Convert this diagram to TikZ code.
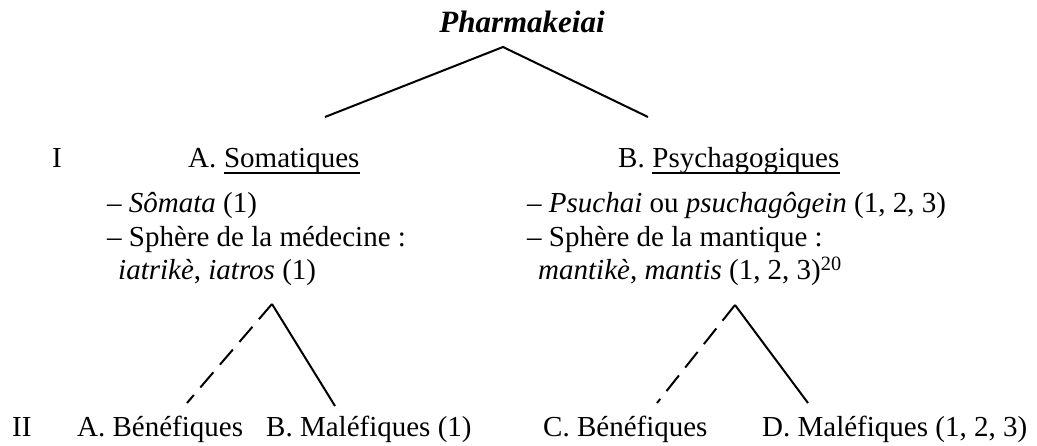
\documentclass[tikz,border=0pt]{standalone}
\usepackage{fontspec}
\setmainfont{Liberation Serif}
\begin{document}
\begin{tikzpicture}[x=1pt,y=-1pt,
  txt/.style={anchor=base west,inner sep=0pt,font=\fontsize{29}{33}\selectfont},
  branch/.style={line width=2pt},
  dbranch/.style={line width=2pt,dash pattern=on 20pt off 10pt},
  uline/.style={line width=1.5pt}]
\useasboundingbox (0,0) rectangle (1037,446);
% top
\node[txt,anchor=base,font=\fontsize{31}{35}\selectfont] (ph) at (522,33) {\textbf{\textit{Pharmakeiai}}};
\coordinate (t0) at (503,47);
\coordinate (tl) at (325,117);
\coordinate (tr) at (648,117);
\draw[branch] (tl) -- (t0) -- (tr);
% level I
\node[txt] (I) at (52,168) {I};
\node[txt] (Aa) at (188,168) {A.};
\node[txt] (As) at ([xshift=7.3pt]Aa.base east) {Somatiques};
\draw[uline] ([yshift=1.5pt]As.south west) -- ([yshift=1.5pt]As.south east);
\node[txt] (Ba) at (618,168) {B.};
\node[txt] (Bs) at ([xshift=7.3pt]Ba.base east) {Psychagogiques};
\draw[uline] ([yshift=1.5pt]Bs.south west) -- ([yshift=1.5pt]Bs.south east);
% descriptions
\node[txt] (s1) at (107,213) {– \textit{Sômata} (1)};
\node[txt] (s2) at (107,247) {– Sphère de la médecine :};
\node[txt] (s3) at (118,280) {\textit{iatrikè}, \textit{iatros} (1)};
\node[txt] (p1) at (527,213) {– \textit{Psuchai} ou \textit{psuchagôgein} (1, 2, 3)};
\node[txt] (p2) at (527,247) {– Sphère de la mantique :};
\node[txt] (p3) at (538,280) {\textit{mantikè}, \textit{mantis} (1, 2, 3)\textsuperscript{20}};
% lower trees
\coordinate (la) at (272,304);
\coordinate (ld) at (187,403);
\coordinate (ls) at (335,406);
\draw[dbranch] (la) -- (ld);
\draw[branch] (la) -- (ls);
\coordinate (ra) at (735,305);
\coordinate (rd) at (657,403);
\coordinate (rs) at (808,403);
\draw[dbranch] (ra) -- (rd);
\draw[branch] (ra) -- (rs);
% level II
\node[txt] (II) at (12,437) {II};
\node[txt] (b1) at (77,437) {A. Bénéfiques};
\node[txt] (b2) at (266,437) {B. Maléfiques (1)};
\node[txt] (b3) at (543,437) {C. Bénéfiques};
\node[txt] (b4) at (762,437) {D. Maléfiques (1, 2, 3)};
\end{tikzpicture}
\end{document}
